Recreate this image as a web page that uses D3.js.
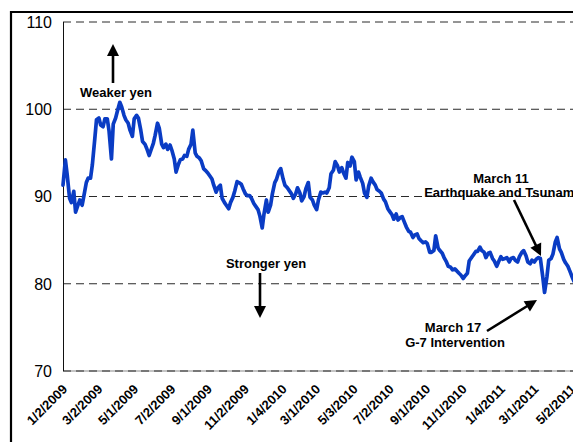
<!DOCTYPE html>
<html><head><meta charset="utf-8">
<script src="https://cdn.jsdelivr.net/npm/d3@7"></script>
<style>
body{margin:0;background:#fff}
svg{display:block}
text{font-family:"Liberation Sans",Arial,sans-serif}
</style>
</head><body>
<svg id="chart" width="573" height="442"></svg>
<script>
// Yen per US dollar, two readings per week (Friday, then the following Tuesday), from 1/2/2009
const firstDate = "1/2/2009";
const usdJpy = [
  91.3, 94.2, 92.5, 89.8, 89.3, 90.6, 88.2, 89.0, 89.6, 89.0,
  90.1, 91.6, 92.1, 92.1, 93.6, 96.5, 98.8, 99.0, 98.2, 98.0,
  98.9, 98.9, 97.5, 94.3, 98.3, 99.0, 99.8, 100.8, 100.3, 99.3,
  98.8, 98.4, 97.6, 96.9, 98.9, 99.3, 99.0, 97.6, 96.3, 96.0,
  95.5, 94.7, 95.3, 96.1, 97.0, 98.4, 97.8, 96.0, 95.6, 96.0,
  95.4, 95.9, 95.3, 94.3, 92.8, 93.7, 94.2, 94.3, 94.7, 94.6,
  95.4, 96.0, 97.6, 95.0, 94.6, 94.4, 94.1, 93.2, 93.0, 92.7,
  92.4, 92.0, 91.3, 90.5, 91.0, 91.3, 89.8, 89.3, 89.0, 88.6,
  89.3, 89.9, 90.6, 91.7, 91.6, 91.4, 90.9, 90.3, 90.1, 90.1,
  89.8, 89.2, 88.9, 88.5, 87.8, 86.4, 88.0, 89.6, 88.2, 89.0,
  90.3, 91.6, 92.0, 92.9, 93.2, 92.0, 91.3, 91.0, 90.7, 90.3,
  89.8, 90.3, 91.0, 90.4, 89.5, 90.0, 90.9, 91.6, 89.9, 89.6,
  89.0, 88.5, 89.6, 90.5, 90.4, 90.5, 90.4, 91.0, 92.6, 93.0,
  94.0, 93.5, 92.8, 93.3, 92.7, 92.1, 93.9, 93.5, 94.5, 94.0,
  91.9, 92.8, 92.2, 91.5, 90.4, 89.9, 91.2, 92.1, 91.7, 91.3,
  90.8, 90.6, 90.4, 89.7, 89.4, 88.6, 88.3, 87.9, 87.4, 88.0,
  87.3, 87.6, 87.7, 87.0, 86.5, 86.0, 85.9, 85.3, 85.6, 85.7,
  85.2, 84.9, 84.7, 84.8, 84.6, 83.6, 83.6, 83.8, 85.5, 84.1,
  83.8, 83.5, 83.0, 82.5, 82.0, 81.9, 81.6, 81.7, 81.5, 81.2,
  81.0, 80.6, 80.9, 81.2, 82.6, 83.0, 83.3, 83.7, 83.7, 84.2,
  83.8, 83.6, 83.0, 83.5, 83.6, 82.9, 82.6, 82.0, 82.5, 83.1,
  82.8, 82.9, 83.0, 82.5, 82.9, 83.0, 82.7, 82.5, 83.1, 83.6,
  83.8, 83.2, 82.5, 82.3, 82.7, 82.5, 82.8, 83.0, 82.9, 80.8,
  79.0, 80.8, 82.7, 82.9, 83.4, 84.8, 85.3, 84.0, 83.6, 82.8,
  82.4, 82.0, 81.5, 80.8, 80.3
];
const xTickLabels = ["1/2/2009","3/2/2009","5/1/2009","7/2/2009","9/1/2009","11/2/2009",
  "1/4/2010","3/1/2010","5/3/2010","7/2/2010","9/1/2010","11/1/2010","1/4/2011","3/1/2011","5/2/2011"];
const yTicks = [70, 80, 90, 100, 110];
const gridValues = [80, 90, 100, 110];

const parse = d3.timeParse("%m/%d/%Y");
const start = parse(firstDate);
const series = usdJpy.map((v, k) => ({
  date: d3.timeDay.offset(start, 7 * Math.floor(k / 2) + (k % 2) * 4),
  value: v
}));

const svg = d3.select("#chart");
svg.append("rect").attr("width", 573).attr("height", 442).attr("fill", "#fff");

const L = 63, R = 596, T = 22, B = 371;
const x = d3.scaleTime().domain([start, parse("6/12/2011")]).range([L, R]);
const y = d3.scaleLinear().domain([70, 110]).range([B, T]);

// outer frame
svg.append("path").attr("d", "M11,460 L11,12 L600,12")
  .attr("fill", "none").attr("stroke", "#000").attr("stroke-width", 2.2);

// grid lines
svg.append("g").selectAll("line").data(gridValues).join("line")
  .attr("x1", L).attr("x2", R)
  .attr("y1", d => y(d)).attr("y2", d => y(d))
  .attr("stroke", "#2a2a2a").attr("stroke-width", 1)
  .attr("stroke-dasharray", "8,5");

// bottom axis (70)
svg.append("line").attr("x1", L).attr("x2", R).attr("y1", y(70)).attr("y2", y(70))
  .attr("stroke", "#8a8a8a").attr("stroke-width", 1.2);
svg.append("line").attr("x1", L).attr("x2", R).attr("y1", y(70)).attr("y2", y(70))
  .attr("stroke", "#2a2a2a").attr("stroke-width", 1.2).attr("stroke-dasharray", "8,5");

// left axis
svg.append("line").attr("x1", L + 0.5).attr("x2", L + 0.5).attr("y1", T).attr("y2", B)
  .attr("stroke", "#111").attr("stroke-width", 1);

// y labels
svg.append("g").selectAll("text").data(yTicks).join("text")
  .attr("x", 52).attr("y", d => y(d)).attr("dy", "0.36em")
  .attr("text-anchor", "end").attr("font-size", 16).attr("fill", "#000")
  .text(d => d);

// x labels
svg.append("g").selectAll("text").data(xTickLabels).join("text")
  .attr("transform", d => `translate(${x(parse(d)) + 5},${390}) rotate(-45)`)
  .attr("text-anchor", "end").attr("font-size", 13).attr("font-weight", "bold")
  .attr("fill", "#000")
  .text(d => d);

// data line
const line = d3.line().x(d => x(d.date)).y(d => y(d.value));
svg.append("path").datum(series).attr("d", line)
  .attr("fill", "none").attr("stroke", "#0a3cc4").attr("stroke-width", 3.7)
  .attr("stroke-linejoin", "round").attr("stroke-linecap", "round");

// arrows
function arrow(x1, y1, x2, y2) {
  const dx = x2 - x1, dy = y2 - y1, len = Math.hypot(dx, dy);
  const ux = dx / len, uy = dy / len, hl = 12, hw = 6;
  const bx = x2 - ux * hl, by = y2 - uy * hl;
  svg.append("line").attr("x1", x1).attr("y1", y1).attr("x2", bx + ux * 2).attr("y2", by + uy * 2)
    .attr("stroke", "#000").attr("stroke-width", 2.6);
  svg.append("path")
    .attr("d", `M${x2},${y2} L${bx - uy * hw},${by + ux * hw} L${bx + uy * hw},${by - ux * hw} Z`)
    .attr("fill", "#000");
}
arrow(113, 83, 113, 44);
arrow(260, 273, 260, 318);
arrow(514, 200, 541, 256);
arrow(487, 331, 537, 300);

// annotation text
function label(tx, ty, s) {
  svg.append("text").attr("x", tx).attr("y", ty).attr("text-anchor", "middle")
    .attr("font-size", 13).attr("font-weight", "bold").attr("fill", "#000").text(s);
}
label(116, 97, "Weaker yen");
label(266, 268, "Stronger yen");
label(501, 183, "March 11");
label(501, 197, "Earthquake and Tsunami");
label(453, 332, "March 17");
label(455, 347, "G-7 Intervention");
</script>
</body></html>
